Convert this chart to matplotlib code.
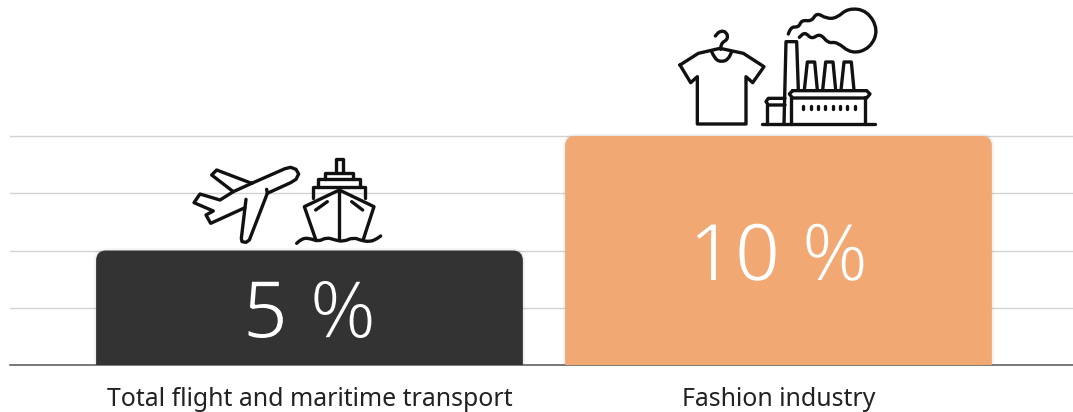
import matplotlib
matplotlib.use('Agg')
import matplotlib.pyplot as plt
import matplotlib.patheffects as pe
from matplotlib.path import Path
from matplotlib.patches import PathPatch

plt.rcParams['font.family'] = ['Noto Sans', 'DejaVu Sans']

categories = ['Total flight and maritime transport', 'Fashion industry']
values = [5, 10]
bar_colors = ['#333333', '#f1a873']
grid_ticks = [2.5, 5, 7.5, 10]

W, H = 1073, 412
fig = plt.figure(figsize=(W / 100, H / 100), dpi=100)

# bar axes, baseline sits 47 px above the bottom edge
ax = fig.add_axes([10 / W, 47 / H, 1 - 10 / W, 1 - 47 / H])
ax.set_xlim(-0.6386, 1.628)
ax.set_ylim(0, 15.94)
for s in ['top', 'left', 'right']:
    ax.spines[s].set_visible(False)
ax.spines['bottom'].set_color('#555555')
ax.spines['bottom'].set_linewidth(1.1)
ax.set_yticks(grid_ticks)
ax.set_yticklabels([])
ax.tick_params(axis='both', length=0)
ax.grid(True, axis='y', color='#d2d2d2', linewidth=1)
ax.set_axisbelow(True)
ax.set_xticks(range(len(categories)))
ax.set_xticklabels(categories, fontsize=17.9, color='#222222')
ax.tick_params(axis='x', pad=16)

width = 0.91
rx = 10 / 469
ry = 10 / 22.9


def top_round_bar(x, h):
    l, r = x - width / 2, x + width / 2
    verts = [(l, 0), (l, h - ry), (l, h), (l + rx, h), (r - rx, h), (r, h), (r, h - ry), (r, 0), (l, 0)]
    codes = [Path.MOVETO, Path.LINETO, Path.CURVE3, Path.CURVE3, Path.LINETO,
             Path.CURVE3, Path.CURVE3, Path.LINETO, Path.CLOSEPOLY]
    return Path(verts, codes)


for i, v in enumerate(values):
    # soft edge around the bar
    ax.add_patch(PathPatch(top_round_bar(i, v), facecolor='none', edgecolor='#000000',
                           alpha=0.05, linewidth=3, zorder=2))
    ax.add_patch(PathPatch(top_round_bar(i, v), facecolor=bar_colors[i], edgecolor='none', zorder=3))
    # edge in the bar colour thins the glyphs down
    ax.text(i, v / 2, f'{v} %', ha='center', va='center_baseline', color='white',
            fontsize=58, zorder=4,
            path_effects=[pe.Stroke(linewidth=1.5, foreground=bar_colors[i])])

# icons are drawn on an overlay in pixel units
ov = fig.add_axes([0, 0, 1, 1])
ov.set_xlim(0, W)
ov.set_ylim(H, 0)
ov.axis('off')
ov.patch.set_alpha(0)
LW = 2.4
INK = '#111111'


def stroke(pts, off, close=False, smooth=False):
    pts = [(off[0] + x / 3, off[1] + y / 3) for x, y in pts]
    if smooth:
        verts = [pts[0]]
        codes = [Path.MOVETO]
        for a, b in zip(pts[1:-1], pts[2:]):
            verts += [a, ((a[0] + b[0]) / 2, (a[1] + b[1]) / 2)]
            codes += [Path.CURVE3, Path.CURVE3]
        verts.append(pts[-1])
        codes.append(Path.LINETO)
    else:
        verts = pts + ([pts[0]] if close else [])
        codes = [Path.MOVETO] + [Path.LINETO] * (len(verts) - 1)
    ov.add_patch(PathPatch(Path(verts, codes), facecolor='none', edgecolor=INK, linewidth=LW,
                           capstyle='round', joinstyle='round'))


# plane
p0 = (170, 140)
stroke([(245, 130), (345, 86), (362, 82), (378, 88), (386, 102), (378, 118), (362, 128), (292, 160),
        (238, 300), (228, 307), (216, 305), (214, 295), (225, 203), (122, 250), (108, 225), (130, 213),
        (72, 188), (90, 162), (150, 180), (190, 155), (125, 105), (140, 90), (245, 130)], p0)
stroke([(190, 155), (245, 130)], p0)
stroke([(228, 178), (225, 203)], p0)
stroke([(290, 148), (292, 160)], p0)

# ship
stroke([(497, 95), (497, 58), (518, 58), (518, 95)], p0)
stroke([(465, 118), (465, 98), (548, 98), (548, 118)], p0)
stroke([(445, 140), (445, 118), (570, 118), (570, 140)], p0)
stroke([(430, 175), (430, 140), (585, 140), (585, 175)], p0)
stroke([(437, 298), (403, 200), (508, 150), (612, 200), (580, 298)], p0)
stroke([(508, 150), (508, 298)], p0)
stroke([(437, 210), (472, 185)], p0)
stroke([(545, 185), (578, 210)], p0)
stroke([(488, 175), (489, 175)], p0)
stroke([(527, 175), (528, 175)], p0)
stroke([(380, 310), (395, 295), (420, 295), (445, 305), (470, 292), (495, 300), (520, 305), (550, 292),
        (575, 302), (600, 305), (618, 298), (632, 288)], p0, smooth=True)

# shirt on a hanger
p1 = (660, 0)
stroke([(60, 195), (115, 160), (180, 145), (250, 160), (312, 200), (278, 248), (258, 230), (258, 372),
        (112, 372), (112, 230), (92, 248)], p1, close=True)
stroke([(155, 155), (165, 178), (185, 186), (205, 178), (215, 155)], p1, smooth=True)
stroke([(182, 148), (182, 130), (204, 118), (200, 96), (180, 92), (166, 108)], p1, smooth=True)

# factory
stroke([(372, 372), (378, 125), (410, 125), (415, 270)], p1)
stroke([(375, 295), (325, 295), (318, 305), (325, 315), (375, 315)], p1)
stroke([(322, 315), (322, 372)], p1)
stroke([(398, 272), (620, 272), (630, 282), (620, 294), (398, 294), (388, 282)], p1, close=True)
stroke([(392, 292), (392, 372)], p1)
stroke([(615, 292), (615, 372)], p1)
stroke([(305, 372), (645, 372)], p1)
for sx in (433, 488, 543):
    stroke([(sx, 270), (sx + 9, 186), (sx + 31, 186), (sx + 39, 270)], p1)
for dx in range(430, 590, 22):
    stroke([(dx, 318), (dx, 326)], p1)
stroke([(385, 102), (392, 80), (416, 82), (425, 60), (455, 64), (470, 38), (500, 56), (530, 54),
        (565, 24), (622, 32), (655, 90), (630, 145), (575, 162), (530, 125), (505, 130),
        (480, 100), (455, 118), (435, 96), (418, 112)], p1, smooth=True)

fig.savefig('out.png', dpi=100)
